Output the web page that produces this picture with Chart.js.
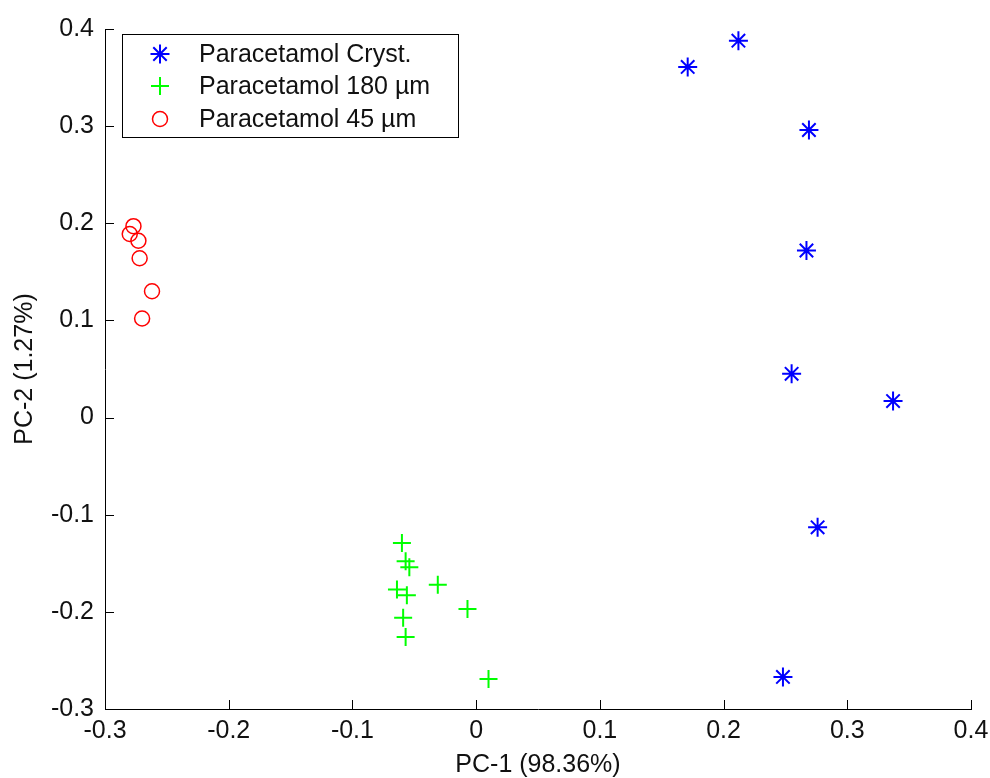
<!DOCTYPE html>
<html><head><meta charset="utf-8">
<style>html,body{margin:0;padding:0;background:#fff;overflow:hidden}#wrap{width:990px;height:778px;position:relative}</style>
<script src="https://cdn.jsdelivr.net/npm/chart.js@4.4.1/dist/chart.umd.min.js"></script>
</head><body><div id="wrap"><canvas id="c" width="990" height="778"></canvas></div>
<script>
const seriesNames = ['Paracetamol Cryst.', 'Paracetamol 180 µm', 'Paracetamol 45 µm'];
const crystX = [0.212, 0.171, 0.269, 0.267, 0.255, 0.337, 0.276, 0.248];
const crystY = [0.388, 0.361, 0.296, 0.172, 0.045, 0.017, -0.113, -0.267];
const p180X = [-0.060, -0.057, -0.054, -0.031, -0.064, -0.056, -0.007, -0.059, -0.057, 0.010];
const p180Y = [-0.129, -0.148, -0.154, -0.172, -0.177, -0.183, -0.197, -0.206, -0.226, -0.269];
const p45X = [-0.277, -0.280, -0.273, -0.272, -0.262, -0.270];
const p45Y = [0.197, 0.189, 0.182, 0.164, 0.130, 0.102];
const xTicks = [-0.3, -0.2, -0.1, 0, 0.1, 0.2, 0.3, 0.4];
const yTicks = [-0.3, -0.2, -0.1, 0, 0.1, 0.2, 0.3, 0.4];
const xTitle = 'PC-1 (98.36%)';
const yTitle = 'PC-2 (1.27%)';

const FONT = "'Liberation Sans', Arial, Helvetica, sans-serif";
const zip = (xs, ys) => xs.map((x, i) => ({x: x, y: ys[i]}));

const styles = [
  {pointStyle: 'star', radius: 9.5, color: '#0000ff', width: 2},
  {pointStyle: 'cross', radius: 9, color: '#00ff00', width: 2},
  {pointStyle: 'circle', radius: 7.5, color: '#ff0000', width: 1.5}
];
const dataSets = [zip(crystX, crystY), zip(p180X, p180Y), zip(p45X, p45Y)];

const datasets = dataSets.map((d, i) => ({
  label: seriesNames[i],
  data: d,
  pointStyle: styles[i].pointStyle,
  pointRadius: styles[i].radius,
  pointHoverRadius: styles[i].radius,
  borderColor: styles[i].color,
  backgroundColor: 'rgba(0,0,0,0)',
  pointBorderWidth: styles[i].width,
  borderWidth: styles[i].width,
  showLine: false
}));

const tickPlugin = {
  id: 'inwardTicks',
  afterDraw(chart) {
    const ctx = chart.ctx;
    const xs = chart.scales.x, ys = chart.scales.y;
    const a = chart.chartArea;
    ctx.save();
    ctx.strokeStyle = '#000';
    ctx.lineWidth = 1;
    ctx.beginPath();
    xTicks.forEach(v => {
      const px = Math.round(xs.getPixelForValue(v)) + 0.5;
      ctx.moveTo(px, a.bottom);
      ctx.lineTo(px, a.bottom - 9);
    });
    yTicks.forEach(v => {
      const py = Math.round(ys.getPixelForValue(v)) + 0.5;
      ctx.moveTo(a.left, py);
      ctx.lineTo(a.left + 9, py);
    });
    ctx.stroke();
    // legend box
    const bx = 122.5, by = 34.5, bw = 336, bh = 103;
    ctx.fillStyle = '#fff';
    ctx.fillRect(bx, by, bw, bh);
    ctx.strokeRect(bx, by, bw, bh);
    const rows = [54, 86, 119];
    ctx.font = '25px ' + FONT;
    ctx.textBaseline = 'middle';
    ctx.textAlign = 'left';
    seriesNames.forEach((name, i) => {
      ctx.strokeStyle = styles[i].color;
      ctx.fillStyle = 'rgba(0,0,0,0)';
      ctx.lineWidth = styles[i].width;
      Chart.helpers.drawPoint(ctx, {pointStyle: styles[i].pointStyle, radius: styles[i].radius, rotation: 0, borderWidth: styles[i].width}, 160, rows[i]);
      ctx.fillStyle = '#111';
      ctx.fillText(name, 199, rows[i] + 1);
    });
    ctx.restore();
  }
};

new Chart(document.getElementById('c'), {
  type: 'scatter',
  data: {datasets: datasets},
  plugins: [tickPlugin],
  options: {
    responsive: false,
    animation: false,
    devicePixelRatio: 1,
    layout: {padding: {top: 29, right: 19, left: 0, bottom: 0}},
    plugins: {legend: {display: false}, tooltip: {enabled: false}},
    scales: {
      x: {
        type: 'linear', min: -0.3, max: 0.4,
        afterBuildTicks: s => { s.ticks = xTicks.map(v => ({value: v})); },
        afterFit: s => { s.height = 69; s.paddingLeft = 0; s.paddingRight = 0; },
        grid: {display: false, drawTicks: false, tickLength: 0},
        border: {display: true, color: '#000', width: 1},
        ticks: {color: '#111', padding: 7, maxRotation: 0, autoSkip: false,
          font: {family: FONT, size: 25},
          callback: v => String(Number(v.toFixed(1)))},
        title: {display: true, text: xTitle, color: '#111', font: {family: FONT, size: 25, lineHeight: 1}, padding: {top: 0, bottom: 0}}
      },
      y: {
        type: 'linear', min: -0.3, max: 0.4,
        afterBuildTicks: s => { s.ticks = yTicks.map(v => ({value: v})); },
        afterFit: s => { s.width = 105; s.paddingTop = 0; s.paddingBottom = 0; },
        grid: {display: false, drawTicks: false, tickLength: 0},
        border: {display: true, color: '#000', width: 1},
        ticks: {color: '#111', padding: 11, autoSkip: false,
          font: {family: FONT, size: 25},
          callback: v => String(Number(v.toFixed(1)))},
        title: {display: true, text: yTitle, color: '#111', font: {family: FONT, size: 25, lineHeight: 1}, padding: {top: 13, bottom: 0}}
      }
    }
  }
});
</script>
</body></html>
